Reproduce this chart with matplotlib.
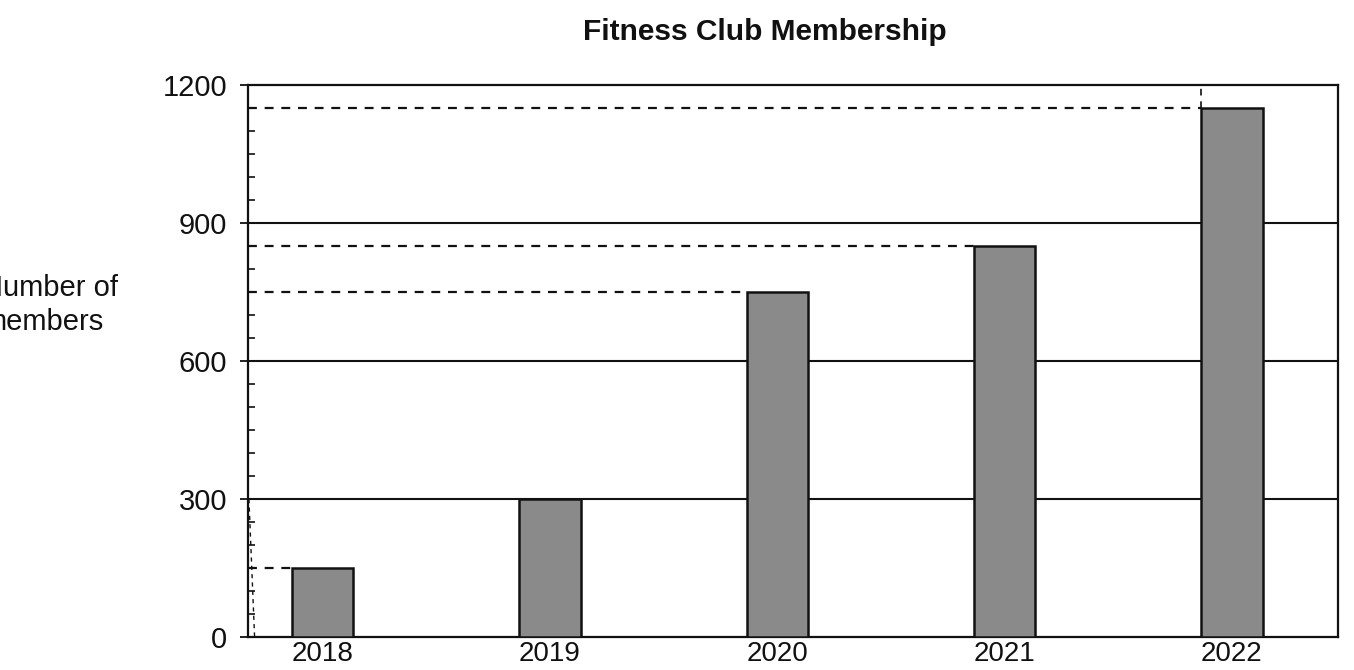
# fitness club membership bar chart (scanned worksheet style)

import numpy as np
import matplotlib.pyplot as plt
from matplotlib.ticker import MultipleLocator

plt.rcParams['font.family'] = ['Liberation Sans', 'DejaVu Sans']

years = ['2018', '2019', '2020', '2021', '2022']
members = [150, 300, 750, 850, 1150]
guide_years = ['2018', '2020', '2021', '2022']  # dashed read-off lines drawn on the sheet

bar_w = 0.27
ink = '#111111'

fig = plt.figure(figsize=(13.54, 6.7), dpi=100)
ax = fig.add_axes([0.183, 0.049, 0.805, 0.824])

x = np.arange(len(years))
ax.bar(x, members, width=bar_w, color='#8a8a8a', edgecolor=ink,
       linewidth=1.8, zorder=3)

ax.set_xlim(-0.33, 4.466)
ax.set_ylim(0, 1200)

# solid grid lines
for v in [300, 600, 900]:
    ax.axhline(v, color=ink, lw=1.5, zorder=2)

# dashed lines from the axis to the bar tops
x0 = ax.get_xlim()[0]
for yr in guide_years:
    i = years.index(yr)
    ax.hlines(members[i], x0, x[i] - bar_w / 2, colors=ink, lw=1.6,
              linestyles=(0, (4, 3.5)), zorder=2)
i = years.index('2022')
ax.vlines(x[i] - bar_w / 2, members[i], 1200, colors=ink, lw=1.2,
          linestyles=(0, (4, 3.5)), zorder=2)
# pencil mark near the axis
ax.plot([x0 + 0.005, x0 + 0.03], [300, 0], color=ink, lw=1.0,
        ls=(0, (3, 3)), zorder=2)

ax.yaxis.set_major_locator(MultipleLocator(300))
ax.yaxis.set_minor_locator(MultipleLocator(50))
ax.tick_params(axis='y', which='major', direction='out', length=6,
               width=1.3, labelsize=21, pad=9, colors=ink)
ax.tick_params(axis='y', which='minor', direction='in', length=5,
               width=1.2, colors=ink)
ax.set_xticks(x, years)
ax.tick_params(axis='x', length=0, labelsize=20, pad=3, colors=ink)

for s in ax.spines.values():
    s.set_linewidth(1.6)
    s.set_color(ink)

fig.text(0.565, 0.952, 'Fitness Club Membership', ha='center', va='center',
         fontsize=21.5, fontweight='bold', color=ink)
fig.text(-0.0133, 0.545, 'Number of\nmembers', ha='left', va='center',
         fontsize=21, linespacing=1.27, color=ink)

fig.savefig('out.png', dpi=100)
